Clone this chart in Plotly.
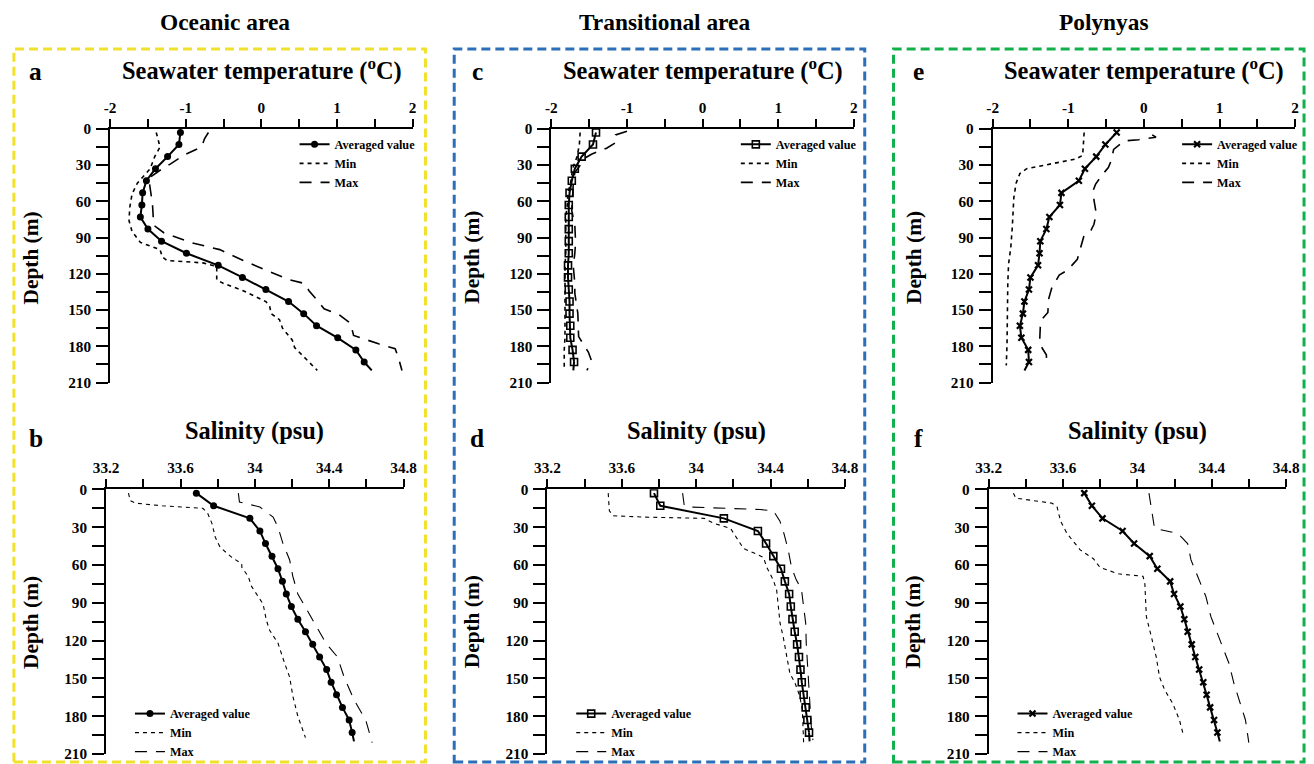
import plotly.graph_objects as go

# ---------------- data ----------------
DEPTH_AVG = [3, 13, 23, 33, 43, 53, 63, 73, 83, 93, 103, 113, 123, 133, 143, 153, 163, 173, 183, 193, 200]

TEMP_OCEANIC_AVG = [-1.07, -1.09, -1.24, -1.40, -1.52, -1.57, -1.58, -1.60, -1.50, -1.32, -0.99, -0.57,
                    -0.25, 0.06, 0.36, 0.56, 0.73, 1.01, 1.25, 1.36, 1.46]
TEMP_OCEANIC_MIN_DEPTH = [3, 15, 23, 33, 45, 54, 65, 76, 85, 94, 100, 106, 109, 111, 114, 125, 128, 134, 143,
                          147, 153, 158, 165, 175, 181, 189, 200]
TEMP_OCEANIC_MIN = [-1.39, -1.34, -1.41, -1.47, -1.64, -1.71, -1.74, -1.75, -1.71, -1.60, -1.34, -1.31, -1.25,
                    -0.77, -0.59, -0.59, -0.50, -0.24, 0.06, 0.11, 0.13, 0.24, 0.28, 0.41, 0.44, 0.57, 0.74]
TEMP_OCEANIC_MAX_DEPTH = [3, 8, 15, 19, 22, 29, 33, 41, 51, 62, 73, 80, 86, 94, 100, 109, 117, 125, 128, 134,
                          142, 149, 154, 161, 171, 178, 182, 189, 200]
TEMP_OCEANIC_MAX = [-0.70, -0.75, -0.79, -0.92, -1.03, -1.20, -1.31, -1.49, -1.47, -1.44, -1.43, -1.42, -1.29,
                    -0.94, -0.55, -0.24, 0.06, 0.37, 0.57, 0.63, 0.74, 0.83, 1.03, 1.18, 1.22, 1.55, 1.77, 1.81, 1.86]

SAL_OCEANIC_AVG = [33.685, 33.778, 33.973, 34.027, 34.057, 34.092, 34.124, 34.148, 34.169, 34.196, 34.231,
                   34.272, 34.311, 34.348, 34.386, 34.410, 34.439, 34.471, 34.507, 34.523, 34.533]
SAL_OCEANIC_MIN_DEPTH = [3, 9, 11, 13, 15, 19, 27, 38, 46, 54, 59, 62, 69, 77, 91, 104, 112, 122, 138, 149,
                         164, 180, 197]
SAL_OCEANIC_MIN = [33.32, 33.33, 33.36, 33.50, 33.72, 33.746, 33.769, 33.787, 33.813, 33.876, 33.929, 33.93,
                   33.964, 33.982, 34.044, 34.062, 34.08, 34.124, 34.16, 34.187, 34.204, 34.231, 34.272]
SAL_OCEANIC_MAX_DEPTH = [3, 10, 14, 22, 30, 43, 56, 69, 83, 96, 106, 122, 133, 149, 167, 183, 191, 201]
SAL_OCEANIC_MAX = [33.911, 33.917, 34.027, 34.098, 34.124, 34.151, 34.187, 34.204, 34.231, 34.279, 34.32,
                   34.382, 34.444, 34.48, 34.533, 34.596, 34.613, 34.631]

TEMP_TRANS_AVG = [-1.41, -1.45, -1.60, -1.69, -1.73, -1.76, -1.77, -1.77, -1.77, -1.77, -1.77, -1.78, -1.78,
                  -1.77, -1.76, -1.76, -1.75, -1.75, -1.72, -1.70, -1.71]
TEMP_TRANS_MIN_DEPTH = [3, 13, 23, 33, 43, 53, 63, 73, 83, 93, 103, 113, 123, 133, 143, 153, 163, 173, 183,
                        193, 200]
TEMP_TRANS_MIN = [-1.62, -1.63, -1.66, -1.72, -1.74, -1.78, -1.79, -1.81, -1.81, -1.81, -1.81, -1.82, -1.82,
                  -1.82, -1.82, -1.82, -1.82, -1.82, -1.83, -1.83, -1.83]
TEMP_TRANS_MAX_DEPTH = [2, 5, 11, 16, 21, 24, 32, 36, 45, 59, 68, 80, 94, 103, 114, 128, 136, 153, 172, 185,
                        192, 200]
TEMP_TRANS_MAX = [-1.00, -1.15, -1.14, -1.27, -1.47, -1.55, -1.64, -1.69, -1.71, -1.72, -1.73, -1.69, -1.68,
                  -1.69, -1.71, -1.69, -1.69, -1.65, -1.64, -1.51, -1.47, -1.53]

SAL_TRANS_AVG = [33.773, 33.807, 34.149, 34.332, 34.376, 34.415, 34.456, 34.477, 34.500, 34.509, 34.518,
                 34.530, 34.543, 34.553, 34.561, 34.568, 34.578, 34.589, 34.598, 34.607, 34.610]
SAL_TRANS_MIN_DEPTH = [3, 17, 21, 22, 23, 27, 31, 38, 47, 51, 54, 62, 72, 80, 96, 106, 117, 133, 146, 153,
                       164, 175, 188, 201]
SAL_TRANS_MIN = [33.527, 33.533, 33.555, 33.723, 34.043, 34.096, 34.185, 34.216, 34.255, 34.318, 34.362,
                 34.380, 34.415, 34.433, 34.442, 34.451, 34.468, 34.486, 34.504, 34.530, 34.557, 34.571,
                 34.575, 34.578]
SAL_TRANS_MAX_DEPTH = [3, 13, 14, 16, 17, 25, 35, 48, 62, 72, 79, 91, 106, 122, 143, 162, 175, 188, 199]
SAL_TRANS_MAX = [33.927, 33.936, 33.963, 34.344, 34.415, 34.45, 34.472, 34.495, 34.513, 34.539, 34.566,
                 34.578, 34.589, 34.592, 34.601, 34.607, 34.614, 34.619, 34.628]

TEMP_POLY_AVG = [-0.36, -0.51, -0.63, -0.78, -0.86, -1.09, -1.11, -1.25, -1.29, -1.37, -1.38, -1.40, -1.50,
                 -1.52, -1.58, -1.60, -1.64, -1.62, -1.53, -1.52, -1.58]
TEMP_POLY_MIN_DEPTH = [3, 18, 22, 25, 30, 33, 37, 45, 57, 65, 81, 98, 112, 128, 156, 178, 196]
TEMP_POLY_MIN = [-0.79, -0.80, -0.81, -0.90, -1.29, -1.55, -1.64, -1.69, -1.72, -1.73, -1.74, -1.76, -1.79,
                 -1.80, -1.80, -1.81, -1.82]
TEMP_POLY_MAX_DEPTH = [5, 7, 9, 10, 17, 26, 32, 38, 46, 51, 59, 70, 79, 84, 88, 98, 108, 117, 121, 132, 141,
                       152, 157, 164, 178, 187, 197]
TEMP_POLY_MAX = [0.11, 0.16, -0.07, -0.26, -0.40, -0.43, -0.47, -0.55, -0.64, -0.67, -0.66, -0.63, -0.66,
                 -0.70, -0.79, -0.83, -0.88, -1.01, -1.12, -1.22, -1.26, -1.27, -1.34, -1.37, -1.38, -1.29, -1.28]

SAL_POLY_AVG = [33.714, 33.755, 33.812, 33.920, 33.982, 34.066, 34.107, 34.176, 34.197, 34.231, 34.252,
                34.270, 34.292, 34.311, 34.332, 34.354, 34.372, 34.391, 34.412, 34.430, 34.443]
SAL_POLY_MIN_DEPTH = [3, 7, 11, 14, 25, 35, 48, 55, 62, 67, 69, 75, 85, 101, 117, 133, 149, 159, 170, 183, 196]
SAL_POLY_MIN = [33.333, 33.346, 33.541, 33.568, 33.586, 33.621, 33.692, 33.763, 33.799, 33.897, 34.03, 34.04,
                34.043, 34.048, 34.075, 34.101, 34.119, 34.146, 34.19, 34.226, 34.249]
SAL_POLY_MAX_DEPTH = [3, 17, 31, 35, 43, 56, 69, 85, 101, 122, 138, 154, 170, 183, 201]
SAL_POLY_MAX = [34.062, 34.075, 34.092, 34.217, 34.27, 34.288, 34.324, 34.368, 34.395, 34.448, 34.492,
                34.519, 34.555, 34.581, 34.599]

TEMP_TICKS = [-2, -1, 0, 1, 2]
TEMP_TICK_TEXT = ["-2", "-1", "0", "1", "2"]
TEMP_MINOR = [-1.5, -0.5, 0.5, 1.5]
SAL_TICKS = [33.2, 33.6, 34.0, 34.4, 34.8]
SAL_TICK_TEXT = ["33.2", "33.6", "34", "34.4", "34.8"]
SAL_MINOR = [33.4, 33.8, 34.2, 34.6]
DEPTH_TICKS = [0, 30, 60, 90, 120, 150, 180, 210]
DEPTH_MINOR = [15, 45, 75, 105, 135, 165, 195]

COLUMN_TITLES = ["Oceanic area", "Transitional area", "Polynyas"]
PANEL_LETTERS = ["a", "b", "c", "d", "e", "f"]
SERIES_NAMES = ["Averaged value", "Min", "Max"]
TEMP_TITLE = "Seawater temperature (<sup>o</sup>C)"
SAL_TITLE = "Salinity (psu)"
DEPTH_TITLE = "Depth (m)"

# reference canvas used for placing elements (paper fractions)
W, H = 1314, 764
# the captured area is 16 px wider/taller than the target and is scaled down to it;
# the plot div fills that area, so font sizes get a small compensation factor
FS = 1.016
FONT = "Liberation Serif, Times New Roman, serif"


def fx(p):
    return p / W


def fy(p):
    return 1 - p / H


FRAME_COLORS = ["#f0e12c", "#2c6fb8", "#12b04c"]
FRAMES_X = [(9, 424), (453, 867), (896, 1310)]
COL_OFFSETS = [0, 445, 890]
MARKERS = ["circle", "square-open", "x-thin-open"]

cols_data = [
    (TEMP_OCEANIC_AVG, TEMP_OCEANIC_MIN_DEPTH, TEMP_OCEANIC_MIN, TEMP_OCEANIC_MAX_DEPTH, TEMP_OCEANIC_MAX,
     SAL_OCEANIC_AVG, SAL_OCEANIC_MIN_DEPTH, SAL_OCEANIC_MIN, SAL_OCEANIC_MAX_DEPTH, SAL_OCEANIC_MAX),
    (TEMP_TRANS_AVG, TEMP_TRANS_MIN_DEPTH, TEMP_TRANS_MIN, TEMP_TRANS_MAX_DEPTH, TEMP_TRANS_MAX,
     SAL_TRANS_AVG, SAL_TRANS_MIN_DEPTH, SAL_TRANS_MIN, SAL_TRANS_MAX_DEPTH, SAL_TRANS_MAX),
    (TEMP_POLY_AVG, TEMP_POLY_MIN_DEPTH, TEMP_POLY_MIN, TEMP_POLY_MAX_DEPTH, TEMP_POLY_MAX,
     SAL_POLY_AVG, SAL_POLY_MIN_DEPTH, SAL_POLY_MIN, SAL_POLY_MAX_DEPTH, SAL_POLY_MAX),
]

fig = go.Figure()
layout = dict(
    autosize=True, margin=dict(l=0, r=0, t=0, b=0, pad=0),
    paper_bgcolor="white", plot_bgcolor="white",
    font=dict(family=FONT, color="black"),
    showlegend=True,
)
annotations = []
shapes = []

idx = 0
for c in range(3):
    off = COL_OFFSETS[c]
    d = cols_data[c]
    for r in range(2):
        idx += 1
        is_temp = (r == 0)
        xa = "x" if idx == 1 else f"x{idx}"
        ya = "y" if idx == 1 else f"y{idx}"
        xkey = "xaxis" if idx == 1 else f"xaxis{idx}"
        ykey = "yaxis" if idx == 1 else f"yaxis{idx}"
        lkey = "legend" if idx == 1 else f"legend{idx}"
        if is_temp:
            x0, x1 = off + 106, off + 411
            y0, y1 = 128, 382
            avg, mind, minv, maxd, maxv = d[0], d[1], d[2], d[3], d[4]
            rng = [-2, 2]
            tv, tt, mv = TEMP_TICKS, TEMP_TICK_TEXT, TEMP_MINOR
            dw = 1.6
        else:
            x0, x1 = off + 102, off + 402
            y0, y1 = 489, 754
            avg, mind, minv, maxd, maxv = d[5], d[6], d[7], d[8], d[9]
            rng = [33.2, 34.8]
            tv, tt, mv = SAL_TICKS, SAL_TICK_TEXT, SAL_MINOR
            dw = 1.1

        tickfont = dict(family=FONT, size=15 * FS, color="black", weight="bold")
        layout[xkey] = dict(
            domain=[fx(x0), fx(x1)], range=rng, side="top", anchor=ya,
            showline=True, linewidth=2, linecolor="black", mirror=False,
            ticks="outside", ticklen=8, tickwidth=2, tickcolor="black",
            tickmode="array", tickvals=tv, ticktext=tt, tickfont=tickfont,
            minor=dict(tickmode="array", tickvals=mv, ticks="outside", ticklen=8, tickwidth=2,
                       tickcolor="black", showgrid=False),
            showgrid=False, zeroline=False, fixedrange=True,
        )
        layout[ykey] = dict(
            domain=[fy(y1), fy(y0)], range=[210, 0], anchor=xa,
            showline=True, linewidth=2, linecolor="black",
            ticks="outside", ticklen=12, tickwidth=2, tickcolor="black",
            tickmode="array", tickvals=DEPTH_TICKS, ticktext=[str(v) for v in DEPTH_TICKS],
            tickfont=tickfont, ticklabelstandoff=2,
            minor=dict(tickmode="array", tickvals=DEPTH_MINOR, ticks="outside", ticklen=12, tickwidth=2,
                       tickcolor="black", showgrid=False),
            showgrid=False, zeroline=False, fixedrange=True,
        )

        msym = MARKERS[c]
        if msym == "circle":
            mk = dict(symbol=msym, size=7, color="black", line=dict(color="black", width=0))
        elif msym == "square-open":
            mk = dict(symbol=msym, size=7, color="black", line=dict(color="black", width=1.6))
        else:
            mk = dict(symbol=msym, size=6, color="black", line=dict(color="black", width=2.2))
        fig.add_trace(go.Scatter(
            x=avg[:20], y=DEPTH_AVG[:20], xaxis=xa, yaxis=ya, mode="lines+markers",
            name=SERIES_NAMES[0], legend=lkey,
            line=dict(color="black", width=2), marker=mk,
        ))
        fig.add_trace(go.Scatter(
            x=avg[19:], y=DEPTH_AVG[19:], xaxis=xa, yaxis=ya, mode="lines", showlegend=False,
            line=dict(color="black", width=2), hoverinfo="skip",
        ))
        fig.add_trace(go.Scatter(
            x=minv, y=mind, xaxis=xa, yaxis=ya, mode="lines", name=SERIES_NAMES[1], legend=lkey,
            line=dict(color="black", width=dw, dash="4px,4px"),
        ))
        fig.add_trace(go.Scatter(
            x=maxv, y=maxd, xaxis=xa, yaxis=ya, mode="lines", name=SERIES_NAMES[2], legend=lkey,
            line=dict(color="black", width=dw, dash="12px,9px"),
        ))

        if is_temp:
            lx, ly = off + 292, 129
        else:
            lx, ly = off + 126, 699
        layout[lkey] = dict(
            x=fx(lx), y=fy(ly), xanchor="left", yanchor="top", bgcolor="rgba(0,0,0,0)",
            borderwidth=0, font=dict(family=FONT, size=12 * FS, color="black", weight="bold"),
            tracegroupgap=0, itemwidth=30,
        )

        annotations.append(dict(
            text=PANEL_LETTERS[idx - 1], x=fx(off + 31), y=fy(70 if is_temp else 438),
            xref="paper", yref="paper", showarrow=False, xanchor="center", yanchor="middle",
            font=dict(family=FONT, size=25 * FS, color="black", weight="bold"),
        ))
        annotations.append(dict(
            text=TEMP_TITLE if is_temp else SAL_TITLE,
            x=fx(x0 + 153 if is_temp else x0 + 150), y=fy(69 if is_temp else 431),
            xref="paper", yref="paper", showarrow=False, xanchor="center", yanchor="middle",
            font=dict(family=FONT, size=24 * FS, color="black", weight="bold"),
        ))
        annotations.append(dict(
            text=DEPTH_TITLE, x=fx(off + 26), y=fy(257 if is_temp else 622),
            xref="paper", yref="paper", showarrow=False, xanchor="center", yanchor="middle",
            textangle=-90, font=dict(family=FONT, size=21 * FS, color="black", weight="bold"),
        ))

    fx0, fx1 = FRAMES_X[c]
    annotations.append(dict(
        text=COLUMN_TITLES[c], x=fx((fx0 + fx1) / 2 + 5), y=fy(21),
        xref="paper", yref="paper", showarrow=False, xanchor="center", yanchor="middle",
        font=dict(family=FONT, size=23 * FS, color="black", weight="bold"),
    ))
    shapes.append(dict(
        type="rect", xref="paper", yref="paper", x0=fx(fx0), x1=fx(fx1), y0=fy(762), y1=fy(48),
        line=dict(color=FRAME_COLORS[c], width=3, dash="9px,5px"), fillcolor="rgba(0,0,0,0)",
        layer="below",
    ))

layout["annotations"] = annotations
layout["shapes"] = shapes
fig.update_layout(**layout)
# the plot div fills the whole captured area; negative margins cancel the default 8px body margin
fig.write_html(
    "out.html",
    default_width="1330px;margin:-8px 0 -8px -8px",
    default_height="780px",
)
